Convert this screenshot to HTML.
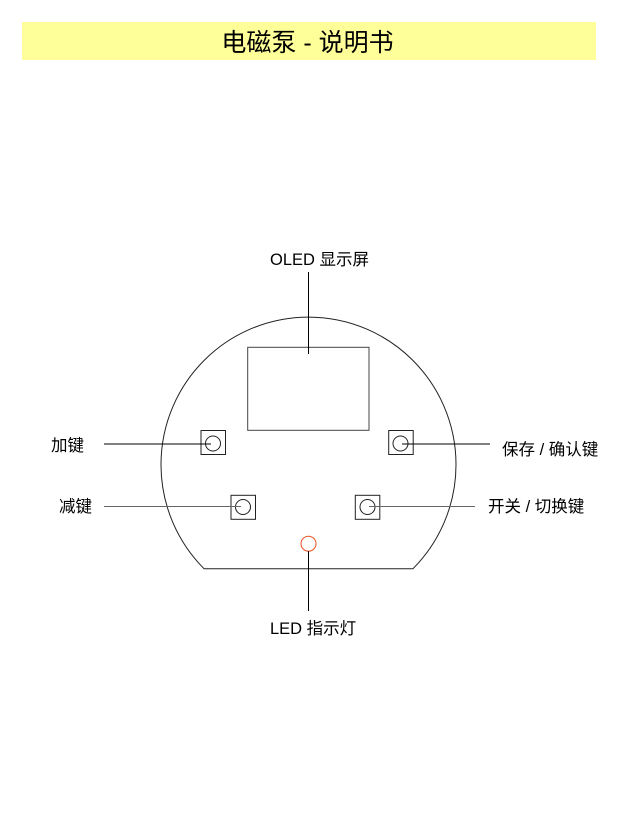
<!DOCTYPE html>
<html><head><meta charset="utf-8"><style>
body{margin:0;background:#fff;width:620px;height:830px;overflow:hidden;position:relative;font-family:"Liberation Sans","Noto Sans CJK SC",sans-serif;}
.bar{position:absolute;left:22px;top:22px;width:574px;height:38px;background:#ffff99;}
.t{position:absolute;left:0;width:615px;top:28px;text-align:center;font-size:25px;line-height:30px;color:#000;}
.l{position:absolute;font-size:16.5px;line-height:18px;color:#000;white-space:nowrap;}
</style></head><body>
<div class="bar"></div>
<div class="t">电磁泵 - 说明书</div>
<svg width="620" height="830" style="position:absolute;left:0;top:0">
<path d="M204,568.7 L413,568.7 A147.5,147.5 0 1 0 204,568.7 Z" fill="none" stroke="#222" stroke-width="1"/>
<rect x="247.7" y="347.3" width="121.3" height="83" fill="none" stroke="#444" stroke-width="1"/>
<line x1="308.5" y1="272" x2="308.5" y2="354" stroke="#000"/>
<rect x="201" y="430.5" width="24.5" height="24" fill="none" stroke="#222"/>
<circle cx="213" cy="443.5" r="7.5" fill="none" stroke="#222"/>
<rect x="388.7" y="430.5" width="24.5" height="24" fill="none" stroke="#222"/>
<circle cx="400.5" cy="443.5" r="7.5" fill="none" stroke="#222"/>
<rect x="231" y="495.3" width="24.5" height="24" fill="none" stroke="#222"/>
<circle cx="243" cy="507" r="7.5" fill="none" stroke="#222"/>
<rect x="355.3" y="495.3" width="24.5" height="24" fill="none" stroke="#222"/>
<circle cx="367.5" cy="507" r="7.5" fill="none" stroke="#222"/>
<line x1="104" y1="444" x2="211" y2="444" stroke="#000"/>
<line x1="104" y1="506.5" x2="241" y2="506.5" stroke="#666"/>
<line x1="402" y1="444" x2="490" y2="444" stroke="#000"/>
<line x1="369" y1="506.5" x2="475" y2="506.5" stroke="#666"/>
<circle cx="308.5" cy="543.7" r="7.5" fill="none" stroke="#f05020"/>
<line x1="308.5" y1="551" x2="308.5" y2="611" stroke="#000"/>
</svg>
<div class="l" style="left:270px;top:251px">OLED 显示屏</div>
<div class="l" style="left:51px;top:437px">加键</div>
<div class="l" style="left:59px;top:498px">减键</div>
<div class="l" style="left:502px;top:441px">保存 / 确认键</div>
<div class="l" style="left:488px;top:498px">开关 / 切换键</div>
<div class="l" style="left:270px;top:620px">LED 指示灯</div>
</body></html>
